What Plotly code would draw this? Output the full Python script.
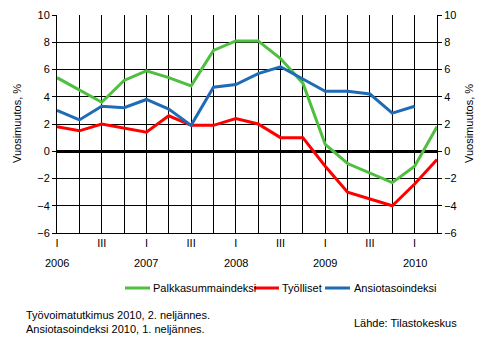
import plotly.graph_objects as go

# Quarterly series, 2006 Q1 – 2010 Q2 (year-on-year change, %)
quarters = ["2006Q1", "2006Q2", "2006Q3", "2006Q4",
            "2007Q1", "2007Q2", "2007Q3", "2007Q4",
            "2008Q1", "2008Q2", "2008Q3", "2008Q4",
            "2009Q1", "2009Q2", "2009Q3", "2009Q4",
            "2010Q1", "2010Q2"]
palkkasumma = [5.4, 4.5, 3.6, 5.2, 5.9, 5.4, 4.8, 7.4, 8.1, 8.1, 6.8, 5.0,
               0.5, -0.9, -1.6, -2.3, -1.1, 1.8]
tyolliset = [1.8, 1.5, 2.0, 1.7, 1.4, 2.6, 1.9, 1.9, 2.4, 2.0, 1.0, 1.0,
             -1.1, -3.0, -3.5, -4.0, -2.4, -0.6]
ansiotaso = [3.0, 2.3, 3.3, 3.2, 3.8, 3.1, 1.9, 4.7, 4.9, 5.7, 6.2, 5.3,
             4.4, 4.4, 4.2, 2.8, 3.3, None]
quarter_labels = ["I", "", "III", ""] * 4 + ["I", ""]
years = ["2006", "2007", "2008", "2009", "2010"]
y_ticks = [-6, -4, -2, 0, 2, 4, 6, 8, 10]
axis_title = "Vuosimuutos, %"

W, H = 496, 341
L, R, T, B = 57, 59, 15, 108
plot_w = W - L - R
plot_h = H - T - B

x = list(range(len(quarters)))
FONT = "Liberation Sans, Arial, sans-serif"

fig = go.Figure()
series = [
    ("Palkkasummaindeksi", palkkasumma, "#4FBF3F"),
    ("Työlliset", tyolliset, "#FF0000"),
    ("Ansiotasoindeksi", ansiotaso, "#1F6BB4"),
]
for name, vals, col in series:
    fig.add_trace(go.Scatter(x=x, y=vals, name=name, mode="lines",
                             line=dict(color=col, width=3),
                             customdata=quarters, showlegend=False))

# invisible trace to carry the right-hand axis
fig.add_trace(go.Scatter(x=[0], y=[0], yaxis="y2", mode="markers",
                         marker=dict(opacity=0), showlegend=False,
                         hoverinfo="skip"))

axis_common = dict(range=[-6, 10], tickvals=y_ticks, ticks="outside",
                   ticklen=4, tickcolor="black", showline=True,
                   linecolor="black", linewidth=1,
                   tickfont=dict(family=FONT, size=11, color="black"))

fig.update_layout(
    width=W, height=H,
    margin=dict(l=L, r=R, t=T, b=B, autoexpand=False),
    paper_bgcolor="white", plot_bgcolor="white",
    font=dict(family=FONT, size=11, color="black"),
    showlegend=False,
    xaxis=dict(range=[0, 17], tickvals=x, ticktext=quarter_labels,
               ticks="", showgrid=True, gridcolor="black", gridwidth=1,
               showline=True, linecolor="black", zeroline=False,
               tickfont=dict(family=FONT, size=11)),
    yaxis=dict(**axis_common, showgrid=True, gridcolor="black",
               gridwidth=1, zeroline=True, zerolinecolor="black",
               zerolinewidth=3),
    yaxis2=dict(**axis_common, overlaying="y", side="right",
                showgrid=False, zeroline=False),
)


def px_x(px):
    return (px - L) / plot_w


def px_y(py):
    return (H - B - py) / plot_h


# axis titles on both sides
for xpix in (17, 469):
    fig.add_annotation(x=px_x(xpix), y=px_y(124), xref="paper", yref="paper",
                       text=axis_title, textangle=-90, showarrow=False,
                       xanchor="center", yanchor="middle",
                       font=dict(family=FONT, size=11))

# year labels under each first quarter
for i, yr in enumerate(years):
    fig.add_annotation(x=i * 4, y=-6, xref="x", yref="y", text=yr,
                       showarrow=False, yshift=-30,
                       font=dict(family=FONT, size=11))

# legend row
legend_y = 288
legend_items = [(125, 151), (254, 280), (325, 352)]
for (name, _, col), (lx, tx) in zip(series, legend_items):
    fig.add_shape(type="line", xref="paper", yref="paper",
                  x0=px_x(lx), x1=px_x(lx + 25),
                  y0=px_y(legend_y), y1=px_y(legend_y),
                  line=dict(color=col, width=3))
    fig.add_annotation(x=px_x(tx), y=px_y(legend_y), xref="paper",
                       yref="paper", text=name, showarrow=False,
                       xanchor="left", yanchor="middle",
                       font=dict(family=FONT, size=11))

# footnotes
for txt, ypix, xpix in [
    ("Työvoimatutkimus 2010, 2. neljännes.", 315, 24),
    ("Ansiotasoindeksi 2010, 1. neljännes.", 329, 24),
    ("Lähde: Tilastokeskus", 323, 352),
]:
    fig.add_annotation(x=px_x(xpix), y=px_y(ypix), xref="paper",
                       yref="paper", text=txt, showarrow=False,
                       xanchor="left", yanchor="middle",
                       font=dict(family=FONT, size=11))

fig.write_html("out.html")
